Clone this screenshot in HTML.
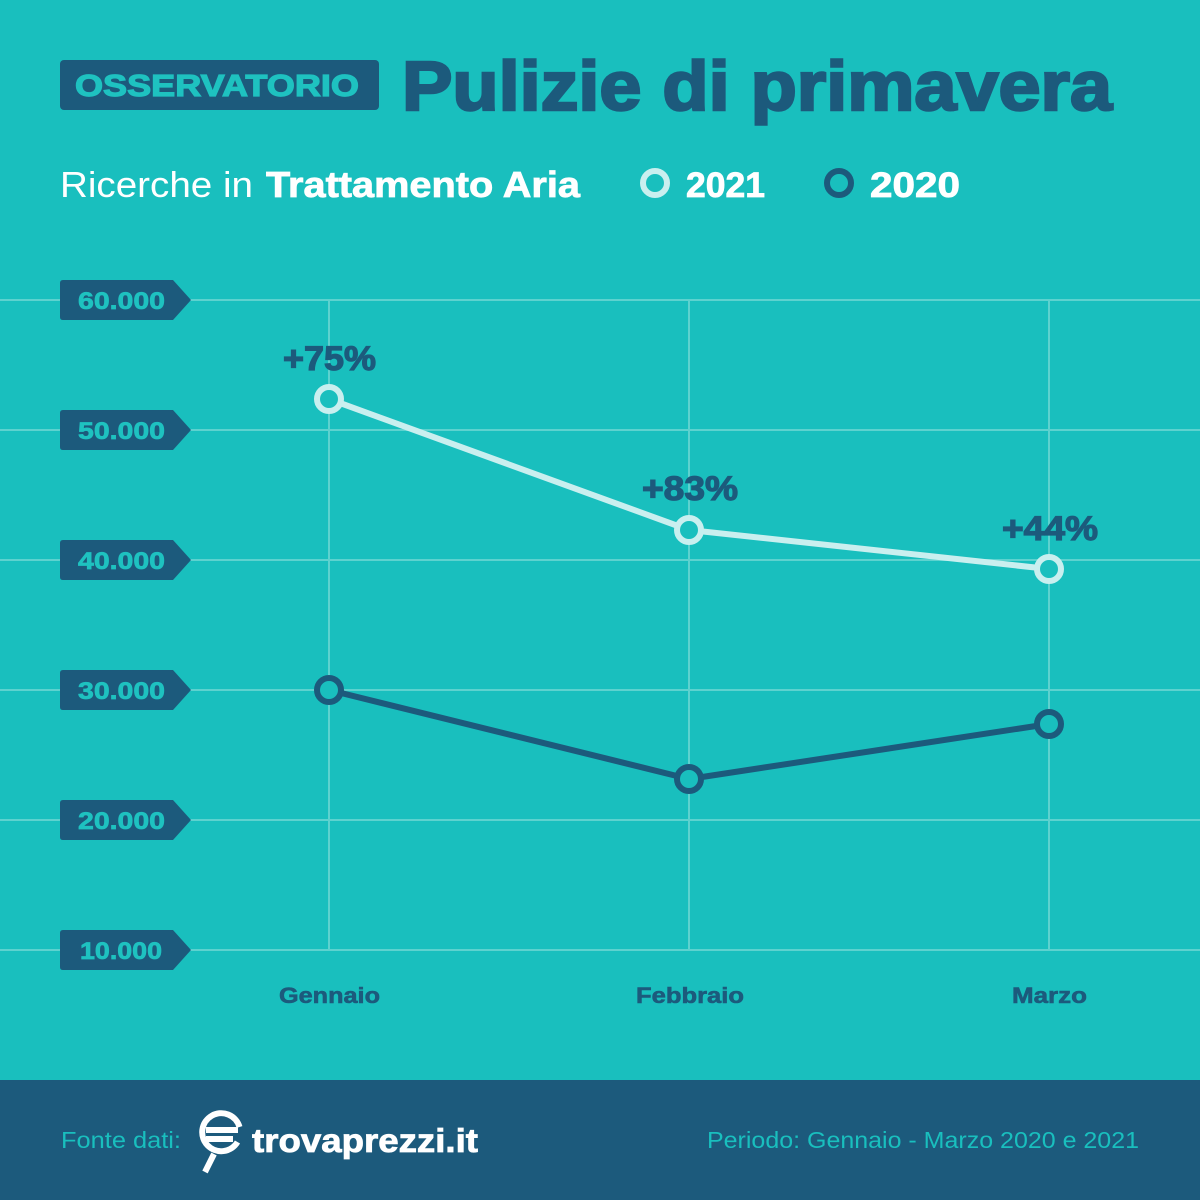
<!DOCTYPE html>
<html>
<head>
<meta charset="utf-8">
<style>
html,body{margin:0;padding:0;background:#19bfbe;}
svg{display:block;}
text{font-family:"Liberation Sans","DejaVu Sans",sans-serif;}
</style>
</head>
<body>
<svg width="1200" height="1200" viewBox="0 0 1200 1200" xmlns="http://www.w3.org/2000/svg">
  <rect x="0" y="0" width="1200" height="1200" fill="#19bfbe"/>

  <!-- Header -->
  <rect x="60" y="60" width="319" height="50" rx="4" fill="#1c5a7c"/>
  <text x="75" y="96" font-size="31" font-weight="bold" fill="#1ec2c0" stroke="#1ec2c0" stroke-width="1.2" textLength="284" lengthAdjust="spacingAndGlyphs">OSSERVATORIO</text>
  <text x="402" y="110" font-size="70" font-weight="bold" fill="#1c5a7c" stroke="#1c5a7c" stroke-width="2.5" textLength="710" lengthAdjust="spacingAndGlyphs">Pulizie di primavera</text>

  <!-- Subtitle & legend -->
  <text x="60" y="197" font-size="36" fill="#ffffff" textLength="193" lengthAdjust="spacingAndGlyphs">Ricerche in</text>
  <text x="266" y="197" font-size="36" font-weight="bold" fill="#ffffff" stroke="#ffffff" stroke-width="0.8" textLength="314" lengthAdjust="spacingAndGlyphs">Trattamento Aria</text>

  <circle cx="655" cy="183" r="12" fill="none" stroke="#c9efef" stroke-width="6"/>
  <text x="686" y="197" font-size="35" font-weight="bold" fill="#ffffff" stroke="#ffffff" stroke-width="0.8" textLength="79" lengthAdjust="spacingAndGlyphs">2021</text>
  <circle cx="839" cy="183" r="12" fill="none" stroke="#1c5a7c" stroke-width="6"/>
  <text x="870" y="197" font-size="35" font-weight="bold" fill="#ffffff" stroke="#ffffff" stroke-width="0.8" textLength="90" lengthAdjust="spacingAndGlyphs">2020</text>

  <!-- Grid -->
  <g stroke="#5dd2cf" stroke-width="2">
    <line x1="0" y1="300" x2="1200" y2="300"/>
    <line x1="0" y1="430" x2="1200" y2="430"/>
    <line x1="0" y1="560" x2="1200" y2="560"/>
    <line x1="0" y1="690" x2="1200" y2="690"/>
    <line x1="0" y1="820" x2="1200" y2="820"/>
    <line x1="0" y1="950" x2="1200" y2="950"/>
    <line x1="329" y1="300" x2="329" y2="950"/>
    <line x1="689" y1="300" x2="689" y2="950"/>
    <line x1="1049" y1="300" x2="1049" y2="950"/>
  </g>

  <!-- Y tags -->
  <g fill="#1c5a7c">
    <path d="M63,280 H173 L191,300 L173,320 H63 Q60,320 60,317 V283 Q60,280 63,280 Z"/>
    <path d="M63,410 H173 L191,430 L173,450 H63 Q60,450 60,447 V413 Q60,410 63,410 Z"/>
    <path d="M63,540 H173 L191,560 L173,580 H63 Q60,580 60,577 V543 Q60,540 63,540 Z"/>
    <path d="M63,670 H173 L191,690 L173,710 H63 Q60,710 60,707 V673 Q60,670 63,670 Z"/>
    <path d="M63,800 H173 L191,820 L173,840 H63 Q60,840 60,837 V803 Q60,800 63,800 Z"/>
    <path d="M63,930 H173 L191,950 L173,970 H63 Q60,970 60,967 V933 Q60,930 63,930 Z"/>
  </g>
  <g font-size="24" font-weight="bold" fill="#1ec2c0" stroke="#1ec2c0" stroke-width="0.7">
    <text x="78" y="309" textLength="87" lengthAdjust="spacingAndGlyphs">60.000</text>
    <text x="78" y="439" textLength="87" lengthAdjust="spacingAndGlyphs">50.000</text>
    <text x="78" y="569" textLength="87" lengthAdjust="spacingAndGlyphs">40.000</text>
    <text x="78" y="699" textLength="87" lengthAdjust="spacingAndGlyphs">30.000</text>
    <text x="78" y="829" textLength="87" lengthAdjust="spacingAndGlyphs">20.000</text>
    <text x="80" y="959" textLength="82" lengthAdjust="spacingAndGlyphs">10.000</text>
  </g>

  <!-- X labels -->
  <g font-size="22" font-weight="bold" fill="#1c5a7c" stroke="#1c5a7c" stroke-width="0.6">
    <text x="279" y="1003" textLength="101" lengthAdjust="spacingAndGlyphs">Gennaio</text>
    <text x="636" y="1003" textLength="108" lengthAdjust="spacingAndGlyphs">Febbraio</text>
    <text x="1012" y="1003" textLength="75" lengthAdjust="spacingAndGlyphs">Marzo</text>
  </g>

  <!-- Series 2020 -->
  <polyline points="329,690 689,779 1049,724" fill="none" stroke="#1c5a7c" stroke-width="6" stroke-linejoin="round"/>
  <g fill="#19bfbe" stroke="#1c5a7c" stroke-width="6">
    <circle cx="329" cy="690" r="12"/>
    <circle cx="689" cy="779" r="12"/>
    <circle cx="1049" cy="724" r="12"/>
  </g>

  <!-- Series 2021 -->
  <polyline points="329,399 689,530 1049,569" fill="none" stroke="#c9efef" stroke-width="6" stroke-linejoin="round"/>
  <g fill="#19bfbe" stroke="#c9efef" stroke-width="6">
    <circle cx="329" cy="399" r="12"/>
    <circle cx="689" cy="530" r="12"/>
    <circle cx="1049" cy="569" r="12"/>
  </g>

  <!-- Annotations -->
  <g font-size="34" font-weight="bold" fill="#1c5a7c" stroke="#1c5a7c" stroke-width="1.2">
    <text x="283" y="370" textLength="93" lengthAdjust="spacingAndGlyphs">+75%</text>
    <text x="642" y="500" textLength="96" lengthAdjust="spacingAndGlyphs">+83%</text>
    <text x="1002" y="540" textLength="96" lengthAdjust="spacingAndGlyphs">+44%</text>
  </g>

  <!-- Footer -->
  <rect x="0" y="1080" width="1200" height="120" fill="#1c5a7c"/>
  <text x="61" y="1148" font-size="23" fill="#19bfbe" textLength="120" lengthAdjust="spacingAndGlyphs">Fonte dati:</text>

  <!-- logo -->
  <g fill="none" stroke="#ffffff" stroke-width="6" stroke-linecap="butt">
    <path d="M239.5,1127 A19,19 0 1 0 237.5,1142"/>
    <line x1="206" y1="1130" x2="238" y2="1130"/>
    <line x1="206" y1="1139" x2="233" y2="1139"/>
    <line x1="214" y1="1154" x2="205" y2="1172"/>
  </g>
  <text x="252" y="1152" font-size="33" font-weight="bold" fill="#ffffff" stroke="#ffffff" stroke-width="0.8" textLength="226" lengthAdjust="spacingAndGlyphs">trovaprezzi.it</text>

  <text x="707" y="1148" font-size="23" fill="#19bfbe" textLength="432" lengthAdjust="spacingAndGlyphs">Periodo: Gennaio - Marzo 2020 e 2021</text>
</svg>
</body>
</html>
